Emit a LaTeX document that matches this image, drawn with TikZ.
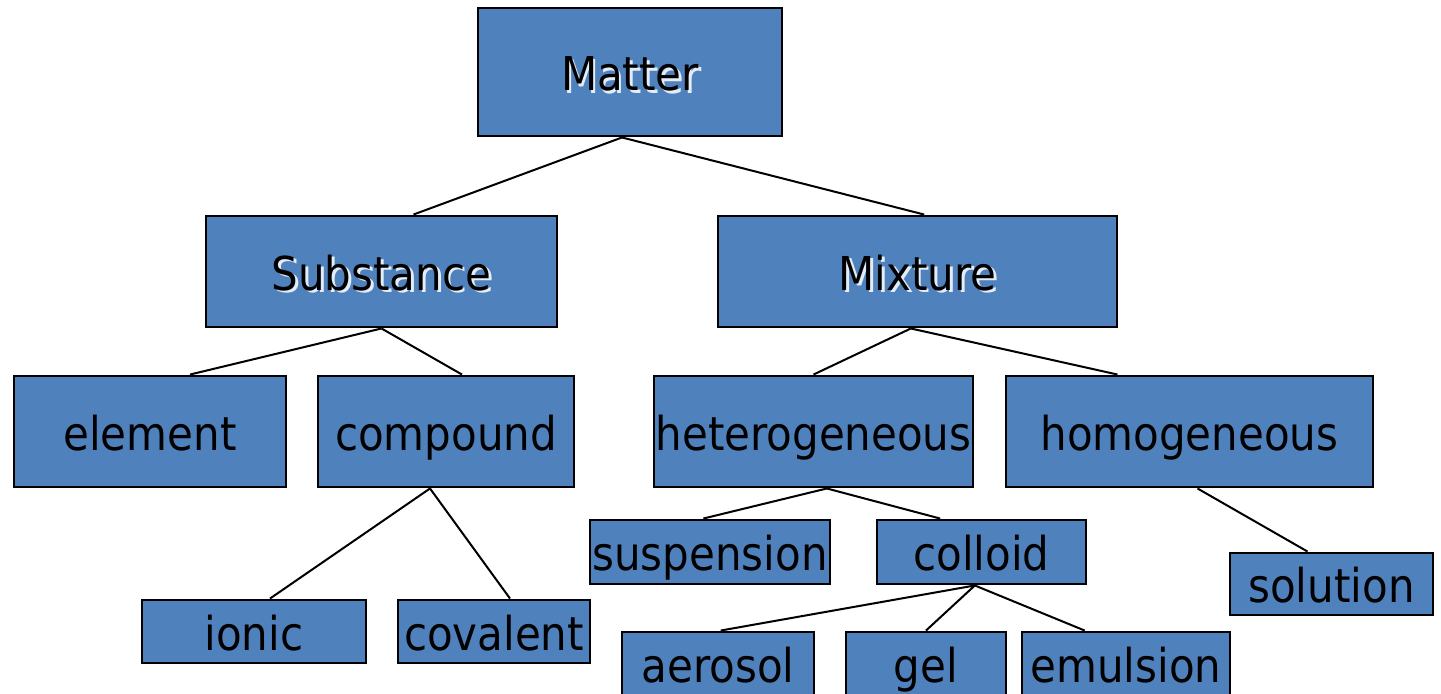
\documentclass[tikz,border=0pt]{standalone}
\usepackage{fontspec}
\setmainfont{DejaVu Sans Condensed}
\usetikzlibrary{calc}
\definecolor{boxblue}{HTML}{4F81BD}
\definecolor{glow}{HTML}{E4ECF7}
\newcommand\glowed[1]{\leavevmode\rlap{\kern2pt\raisebox{-2pt}{\textcolor{glow}{#1}}}#1}

\begin{document}
\begin{tikzpicture}
		[x=0.75pt,y=-0.75pt,
		every node/.style={draw=black,line width=2.2pt,fill=boxblue,inner sep=0pt,
			font=\fontsize{35}{36}\selectfont,text height=29pt,text depth=1pt},
		link/.style={line width=1.5pt}]
		\useasboundingbox (0,0) rectangle (1441,693);
		
		% top levels
		\node[minimum width=304*0.75pt,minimum height=128*0.75pt] (Mat) at (630,72) {\glowed{Matter}};
		\node[minimum width=351*0.75pt,minimum height=111*0.75pt] (Sub) at (381.5,271.5) {\glowed{Substance}};
		\node[minimum width=399*0.75pt,minimum height=111*0.75pt] (Mix) at (917.5,271.5) {\glowed{Mixture}};
		
		\node[minimum width=272*0.75pt,minimum height=111*0.75pt] (Ele) at (150,431.5) {element};
		\node[minimum width=256*0.75pt,minimum height=111*0.75pt] (Com) at (446,431.5) {compound};
		\node[minimum width=319*0.75pt,minimum height=111*0.75pt] (Het) at (813.5,431.5) {heterogeneous};
		\node[minimum width=367*0.75pt,minimum height=111*0.75pt] (Hom) at (1189.5,431.5) {homogeneous};
		
		\node[minimum width=224*0.75pt,minimum height=63*0.75pt] (Ion) at (254,631.5) {ionic};
		\node[minimum width=192*0.75pt,minimum height=63*0.75pt] (Cov) at (494,631.5) {covalent};
		\node[minimum width=240*0.75pt,minimum height=64*0.75pt] (Sus) at (710,552) {suspension};
		\node[minimum width=209*0.75pt,minimum height=64*0.75pt] (Col) at (981.5,552) {colloid};
		\node[minimum width=203*0.75pt,minimum height=62*0.75pt] (Sol) at (1331.5,584) {solution};
		
		\node[minimum width=192*0.75pt,minimum height=64*0.75pt] (Aer) at (718,664) {aerosol};
		\node[minimum width=160*0.75pt,minimum height=64*0.75pt] (Gel) at (926,664) {gel};
		\node[minimum width=208*0.75pt,minimum height=64*0.75pt] (Emu) at (1126,664) {emulsion};
		
		\draw[link] ([xshift=-6pt]Mat.south) -- ([xshift=24pt]Sub.north);
		\draw[link] ([xshift=-6pt]Mat.south) -- ([xshift=5pt]Mix.north);
		
		\draw[link] (Sub.south) -- ([xshift=30pt]Ele.north);
		\draw[link] (Sub.south) -- ([xshift=12pt]Com.north);
		\draw[link] ([xshift=-5pt]Mix.south) -- (Het.north);
		\draw[link] ([xshift=-5pt]Mix.south) -- ([xshift=-54pt]Hom.north);
		
		\draw[link] ([xshift=-12pt]Com.south) -- ([xshift=12pt]Ion.north);
		\draw[link] ([xshift=-12pt]Com.south) -- ([xshift=12pt]Cov.north);
		\draw[link] ([xshift=10pt]Het.south) -- ([xshift=-5pt]Sus.north);
		\draw[link] ([xshift=10pt]Het.south) -- ([xshift=-31pt]Col.north);
		\draw[link] ([xshift=6pt]Hom.south) -- ([xshift=-18pt]Sol.north);
		
		\draw[link] ([xshift=-5pt]Col.south) -- ([xshift=2pt]Aer.north);
		\draw[link] ([xshift=-5pt]Col.south) -- (Gel.north);
		\draw[link] ([xshift=-5pt]Col.south) -- ([xshift=-31pt]Emu.north);
		
		\end{tikzpicture}
\end{document}
